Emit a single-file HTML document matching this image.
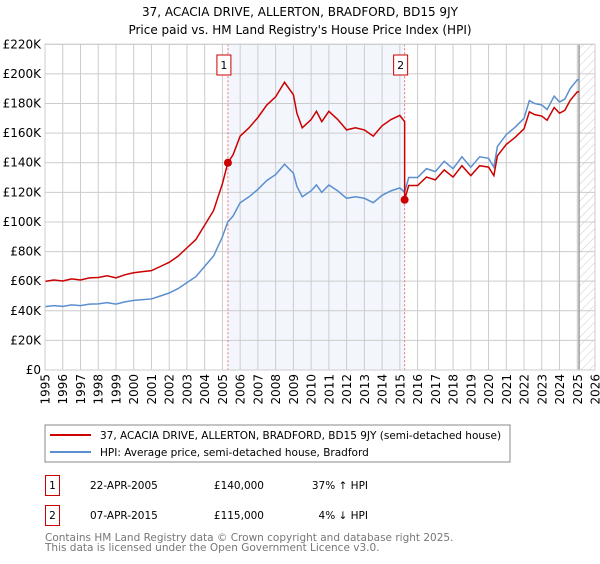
<!DOCTYPE html>
<html><head><meta charset="utf-8"><style>
body{margin:0;background:#fff;font-family:"DejaVu Sans","Liberation Sans",sans-serif;}
svg text{font-family:"DejaVu Sans","Liberation Sans",sans-serif;}
</style></head><body>
<svg id="chart" width="600" height="560" xmlns="http://www.w3.org/2000/svg">
<defs><pattern id="hatch" width="6" height="6" patternUnits="userSpaceOnUse" patternTransform="rotate(45)"><line x1="0" y1="0" x2="0" y2="6" stroke="#ccc" stroke-width="1"/></pattern></defs>
<text x="300" y="16" text-anchor="middle" font-size="12" fill="#000">37, ACACIA DRIVE, ALLERTON, BRADFORD, BD15 9JY</text>
<text x="300" y="34" text-anchor="middle" font-size="12" fill="#000">Price paid vs. HM Land Registry's House Price Index (HPI)</text>
<g id="plot"></g>
<rect x="45" y="425" width="465" height="37" fill="#fff" stroke="#888"/>
<line x1="50" y1="435" x2="91" y2="435" stroke="#cc0000" stroke-width="2"/>
<text x="100" y="439" font-size="10.5">37, ACACIA DRIVE, ALLERTON, BRADFORD, BD15 9JY (semi-detached house)</text>
<line x1="50" y1="452" x2="91" y2="452" stroke="#5b8fd0" stroke-width="2"/>
<text x="100" y="456" font-size="10.5">HPI: Average price, semi-detached house, Bradford</text>
<rect x="45.5" y="475.5" width="14" height="20" fill="#fff" stroke="#cc0000"/>
<text x="52.5" y="489" font-size="10.5" text-anchor="middle">1</text>
<text x="90" y="489" font-size="10.5">22-APR-2005</text>
<text x="264" y="489" font-size="10.5" text-anchor="end">£140,000</text>
<text x="368" y="489" font-size="10.5" text-anchor="end">37% ↑ HPI</text>
<rect x="45.5" y="505.5" width="14" height="20" fill="#fff" stroke="#cc0000"/>
<text x="52.5" y="519" font-size="10.5" text-anchor="middle">2</text>
<text x="90" y="519" font-size="10.5">07-APR-2015</text>
<text x="264" y="519" font-size="10.5" text-anchor="end">£115,000</text>
<text x="368" y="519" font-size="10.5" text-anchor="end">4% ↓ HPI</text>
<text x="45" y="541" font-size="10.5" fill="#777">Contains HM Land Registry data © Crown copyright and database right 2025.</text>
<text x="45" y="551" font-size="10.5" fill="#777">This data is licensed under the Open Government Licence v3.0.</text>
</svg>
<script>
const hpiYears=[1995,1995.5,1996,1996.5,1997,1997.5,1998,1998.5,1999,1999.5,2000,2000.5,2001,2001.5,2002,2002.5,2003,2003.5,2004,2004.5,2005,2005.3,2005.6,2006,2006.5,2007,2007.5,2008,2008.5,2009,2009.2,2009.5,2010,2010.3,2010.6,2011,2011.5,2012,2012.5,2013,2013.5,2014,2014.5,2015,2015.27,2015.5,2016,2016.5,2017,2017.5,2018,2018.5,2019,2019.5,2020,2020.3,2020.5,2021,2021.5,2022,2022.3,2022.6,2023,2023.3,2023.7,2024,2024.3,2024.6,2025,2025.1];
const hpiValues=[42.8,43.5,43,44,43.5,44.5,44.7,45.5,44.5,46,47,47.5,48,50,52,55,59,63,70,77,90,100,104,113,117,122,128,132,139,133,124,117,121,125,120,125,121,116,117,116,113,118,121,123,120,130,130,136,134,141,136,144,137,144,143,137,151,159,164,170,182,180,179,176,185,181,183,190,196,196];
const sales=[{year:2005.31,price:140,label:"1"},{year:2015.27,price:115,label:"2"}];
const yTicks=[0,20,40,60,80,100,120,140,160,180,200,220];
const xTicks=[1995,1996,1997,1998,1999,2000,2001,2002,2003,2004,2005,2006,2007,2008,2009,2010,2011,2012,2013,2014,2015,2016,2017,2018,2019,2020,2021,2022,2023,2024,2025,2026];
const X0=45,X1=595,Y0=370,Y1=44.3,xMin=1995,xMax=2026,yMax=220;
const xs=v=>X0+(v-xMin)/(xMax-xMin)*(X1-X0);
const ys=v=>Y0-v/yMax*(Y0-Y1);
const NS="http://www.w3.org/2000/svg";
const g=document.getElementById('plot');
function mk(t,a){const e=document.createElementNS(NS,t);for(const k in a)e.setAttribute(k,a[k]);g.appendChild(e);return e;}
function hpiAt(y){for(let i=0;i<hpiYears.length-1;i++){if(y<=hpiYears[i+1]){const t=(y-hpiYears[i])/(hpiYears[i+1]-hpiYears[i]);return hpiValues[i]+t*(hpiValues[i+1]-hpiValues[i]);}}return hpiValues[hpiValues.length-1];}
let e=mk('rect',{x:xs(sales[0].year),y:Y1,width:xs(sales[1].year)-xs(sales[0].year),height:Y0-Y1,fill:'#eef3fc',opacity:0.7});


e=mk('rect',{x:xs(2025.1),y:Y1,width:X1-xs(2025.1),height:Y0-Y1,fill:'url(#hatch)'});


xTicks.forEach(t=>{const l=mk('line',{x1:xs(t),x2:xs(t),y1:Y1,y2:Y0,stroke:'#ccc'});


const px=xs(t)+4.5,py=Y0+4;
const tx=mk('text',{x:px,y:py,'text-anchor':'end','font-size':12,transform:'rotate(-90 '+px+' '+py+')'});tx.textContent=t;

});
yTicks.forEach(t=>{const l=mk('line',{x1:X0,x2:X1,y1:ys(t),y2:ys(t),stroke:'#ccc'});


const tx=mk('text',{x:X0-4,y:ys(t)+4,'text-anchor':'end','font-size':12});tx.textContent=t===0?'£0':'£'+t+'K';

});
e=mk('line',{x1:xs(2025.1),x2:xs(2025.1),y1:Y1,y2:Y0,stroke:'#999','stroke-width':1.5});


sales.forEach(s=>{const l=mk('line',{x1:xs(s.year),x2:xs(s.year),y1:Y1,y2:Y0,stroke:'#f07070','stroke-dasharray':'2,2'});

});
let hp=hpiYears.map((y,i)=>xs(y)+','+ys(hpiValues[i])).join(' ');
e=mk('polyline',{points:hp,fill:'none',stroke:'#5b8fd0','stroke-width':1.5});


const r0=sales[0].price/hpiAt(sales[0].year),r1=sales[1].price/hpiAt(sales[1].year);
let pts=[];
hpiYears.forEach((y,i)=>{if(y<sales[1].year)pts.push([y,hpiValues[i]*r0]);});
pts.push([sales[1].year,hpiAt(sales[1].year)*r0]);pts.push([sales[1].year,sales[1].price]);
hpiYears.forEach((y,i)=>{if(y>sales[1].year)pts.push([y,hpiValues[i]*r1]);});
e=mk('polyline',{points:pts.map(p=>xs(p[0])+','+ys(p[1])).join(' '),fill:'none',stroke:'#cc0000','stroke-width':1.5});


sales.forEach(s=>{const c=mk('circle',{cx:xs(s.year),cy:ys(s.price),r:4,fill:'#cc0000'});


const b=mk('rect',{x:xs(s.year)-11,y:55,width:14,height:20,fill:'#fff',stroke:'#cc0000'});


const t=mk('text',{x:xs(s.year)-4,y:69,'text-anchor':'middle','font-size':11});t.textContent=s.label;

});
e=mk('rect',{x:X0,y:Y1,width:X1-X0,height:Y0-Y1,fill:'none',stroke:'#ccc'});


</script>
</body></html>
